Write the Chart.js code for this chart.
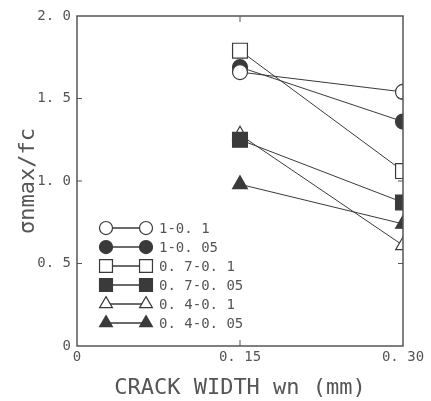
<!DOCTYPE html>
<html>
<head>
<meta charset="utf-8">
<script src="https://cdn.jsdelivr.net/npm/chart.js@4/dist/chart.umd.min.js"></script>
<style>
  html, body { margin: 0; padding: 0; background: #fff; }
  #wrap { width: 431px; height: 401px; }
</style>
</head>
<body>
<div id="wrap"><canvas id="crackChart"></canvas></div>
<script>
// crack widths (mm)
const crackWidths = [0.15, 0.30];

// σnmax/fc per specimen
const s1_01 = [1.66, 1.54];
const s1_005 = [1.69, 1.36];
const s07_01 = [1.79, 1.06];
const s07_005 = [1.25, 0.87];
const s04_01 = [1.28, 0.61];
const s04_005 = [0.98, 0.74];

const seriesNames = ["1-0. 1", "1-0. 05", "0. 7-0. 1", "0. 7-0. 05", "0. 4-0. 1", "0. 4-0. 05"];
const xTickLabels = { 0: "0", 0.15: "0. 15", 0.3: "0. 30" };
const yTickLabels = { 0: "0", 0.5: "0. 5", 1: "1. 0", 1.5: "1. 5", 2: "2. 0" };

const ink = "#3a3a3a";
const textCol = "#555";
const monoFont = "'DejaVu Sans Mono', monospace";

const styles = [
  { pointStyle: "circle", radius: 7.5, fill: "#fff" },
  { pointStyle: "circle", radius: 7.5, fill: ink },
  { pointStyle: "rect", radius: 10.5, fill: "#fff" },
  { pointStyle: "rect", radius: 10.5, fill: ink },
  { pointStyle: "triangle", radius: 8.5, fill: "#fff" },
  { pointStyle: "triangle", radius: 8.5, fill: ink }
];
const seriesData = [s1_01, s1_005, s07_01, s07_005, s04_01, s04_005];

function makeDataset(i) {
  const st = styles[i];
  return {
    label: seriesNames[i],
    data: crackWidths.map((x, k) => ({ x: x, y: seriesData[i][k] })),
    borderColor: ink,
    borderWidth: 1,
    backgroundColor: st.fill,
    pointStyle: st.pointStyle,
    pointRadius: st.radius,
    pointHoverRadius: st.radius,
    pointBackgroundColor: st.fill,
    pointBorderColor: ink,
    pointBorderWidth: 1.2,
    fill: false,
    tension: 0
  };
}

// frame + inward ticks on all four sides
const framePlugin = {
  id: "frame",
  afterDraw(chart) {
    const { ctx, chartArea: a, scales } = chart;
    ctx.save();
    ctx.strokeStyle = "#555";
    ctx.lineWidth = 1.5;
    ctx.strokeRect(a.left, a.top, a.right - a.left, a.bottom - a.top);
    ctx.lineWidth = 1;
    ctx.beginPath();
    [0.5, 1, 1.5].forEach(v => {
      const y = scales.y.getPixelForValue(v);
      ctx.moveTo(a.left, y); ctx.lineTo(a.left + 5, y);
      ctx.moveTo(a.right, y); ctx.lineTo(a.right - 5, y);
    });
    const x = scales.x.getPixelForValue(0.15);
    ctx.moveTo(x, a.top); ctx.lineTo(x, a.top + 6);
    ctx.moveTo(x, a.bottom); ctx.lineTo(x, a.bottom - 6);
    ctx.stroke();
    ctx.restore();
  }
};

// legend: marker — line — marker, then label
const legendPlugin = {
  id: "insideLegend",
  afterDraw(chart) {
    const { ctx } = chart;
    const x0 = 106, x1 = 146, tx = 159, yStart = 228, step = 19;
    ctx.save();
    chart.data.datasets.forEach((ds, i) => {
      const y = yStart + i * step;
      ctx.strokeStyle = ink;
      ctx.lineWidth = 1.5;
      ctx.beginPath();
      ctx.moveTo(x0, y); ctx.lineTo(x1, y);
      ctx.stroke();
      const opts = {
        pointStyle: ds.pointStyle, radius: ds.pointRadius * 0.87,
        rotation: 0, borderWidth: 1.2
      };
      ctx.fillStyle = ds.pointBackgroundColor;
      ctx.lineWidth = 1.2;
      Chart.helpers.drawPoint(ctx, opts, x0, y);
      Chart.helpers.drawPoint(ctx, opts, x1, y);
      ctx.fillStyle = textCol;
      ctx.font = "14px " + monoFont;
      ctx.textBaseline = "middle";
      ctx.textAlign = "left";
      ctx.fillText(ds.label, tx, y + 1);
    });
    ctx.restore();
  }
};

new Chart(document.getElementById("crackChart"), {
  type: "line",
  data: { datasets: seriesData.map((d, i) => makeDataset(i)) },
  options: {
    responsive: true,
    maintainAspectRatio: false,
    animation: false,
    layout: { padding: { top: 16, right: 28, left: 15, bottom: 0 } },
    plugins: {
      legend: { display: false },
      tooltip: { enabled: false }
    },
    scales: {
      x: {
        type: "linear",
        min: 0,
        max: 0.3,
        grid: { display: false, drawTicks: false },
        border: { display: false },
        afterBuildTicks: s => { s.ticks = [0, 0.15, 0.3].map(v => ({ value: v })); },
        afterFit: s => { s.height = 55; },
        ticks: {
          padding: 3,
          maxRotation: 0,
          color: textCol,
          font: { family: monoFont, size: 14 },
          callback: v => xTickLabels[Math.round(v * 100) / 100]
        },
        title: {
          display: true,
          text: "CRACK WIDTH wn (mm)",
          color: textCol,
          font: { family: monoFont, size: 22 },
          padding: { top: 2, bottom: 0 }
        }
      },
      y: {
        min: 0,
        max: 2,
        grid: { display: false, drawTicks: false },
        border: { display: false },
        afterBuildTicks: s => { s.ticks = [0, 0.5, 1, 1.5, 2].map(v => ({ value: v })); },
        afterFit: s => { s.width = 62; },
        ticks: {
          padding: 6,
          color: textCol,
          font: { family: monoFont, size: 14 },
          callback: v => yTickLabels[v]
        },
        title: {
          display: true,
          text: "σnmax/fc",
          color: textCol,
          font: { family: monoFont, size: 22 },
          padding: { top: 0, bottom: 4 }
        }
      }
    }
  },
  plugins: [framePlugin, legendPlugin]
});
</script>
</body>
</html>
